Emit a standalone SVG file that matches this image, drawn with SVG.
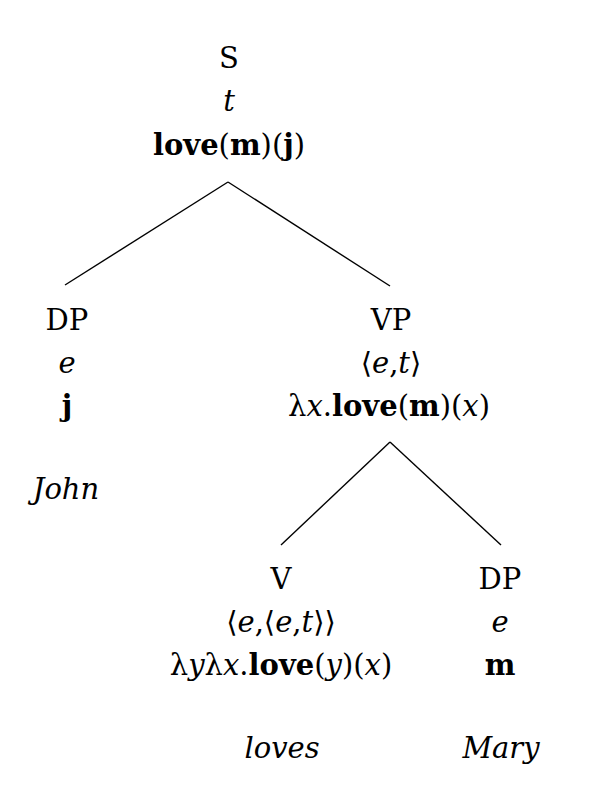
<svg xmlns="http://www.w3.org/2000/svg" width="592" height="785" viewBox="0 0 592 785">
<style>
text{font-family:"DejaVu Serif","Liberation Serif",serif;font-size:29px;fill:#000;text-anchor:middle}
.i{font-style:italic}
.b{font-weight:bold}
.edge{stroke:#000;stroke-width:1.4;fill:none}
</style>
<rect width="592" height="785" fill="#fff"/>
<g id="connectors">
<line class="edge" x1="228" y1="182" x2="65" y2="285"/>
<line class="edge" x1="228" y1="182" x2="390" y2="286"/>
<line class="edge" x1="390" y1="442" x2="281" y2="545"/>
<line class="edge" x1="390" y1="442" x2="501" y2="545"/>
</g>
<g id="node-S">
<text x="229" y="68">S</text>
<text x="229" y="111" class="i">t</text>
<text x="229" y="155"><tspan class="b">love</tspan>(<tspan class="b">m</tspan>)(<tspan class="b">j</tspan>)</text>
</g>
<g id="node-DP-john">
<text x="67" y="330">DP</text>
<text x="67" y="373" class="i">e</text>
<text x="67" y="416" class="b">j</text>
<text x="66" y="499" class="i">John</text>
</g>
<g id="node-VP">
<text x="391" y="330">VP</text>
<text x="391" y="373">⟨<tspan class="i">e</tspan>,<tspan class="i">t</tspan>⟩</text>
<text x="389" y="416">λ<tspan class="i">x</tspan>.<tspan class="b">love</tspan>(<tspan class="b">m</tspan>)(<tspan class="i">x</tspan>)</text>
</g>
<g id="node-V">
<text x="281" y="589">V</text>
<text x="281" y="632">⟨<tspan class="i">e</tspan>,⟨<tspan class="i">e</tspan>,<tspan class="i">t</tspan>⟩⟩</text>
<text x="281" y="675">λ<tspan class="i">y</tspan>λ<tspan class="i">x</tspan>.<tspan class="b">love</tspan>(<tspan class="i">y</tspan>)(<tspan class="i">x</tspan>)</text>
<text x="282" y="758" class="i">loves</text>
</g>
<g id="node-DP-mary">
<text x="500" y="589">DP</text>
<text x="500" y="632" class="i">e</text>
<text x="500" y="675" class="b">m</text>
<text x="501" y="758" class="i">Mary</text>
</g>
</svg>
